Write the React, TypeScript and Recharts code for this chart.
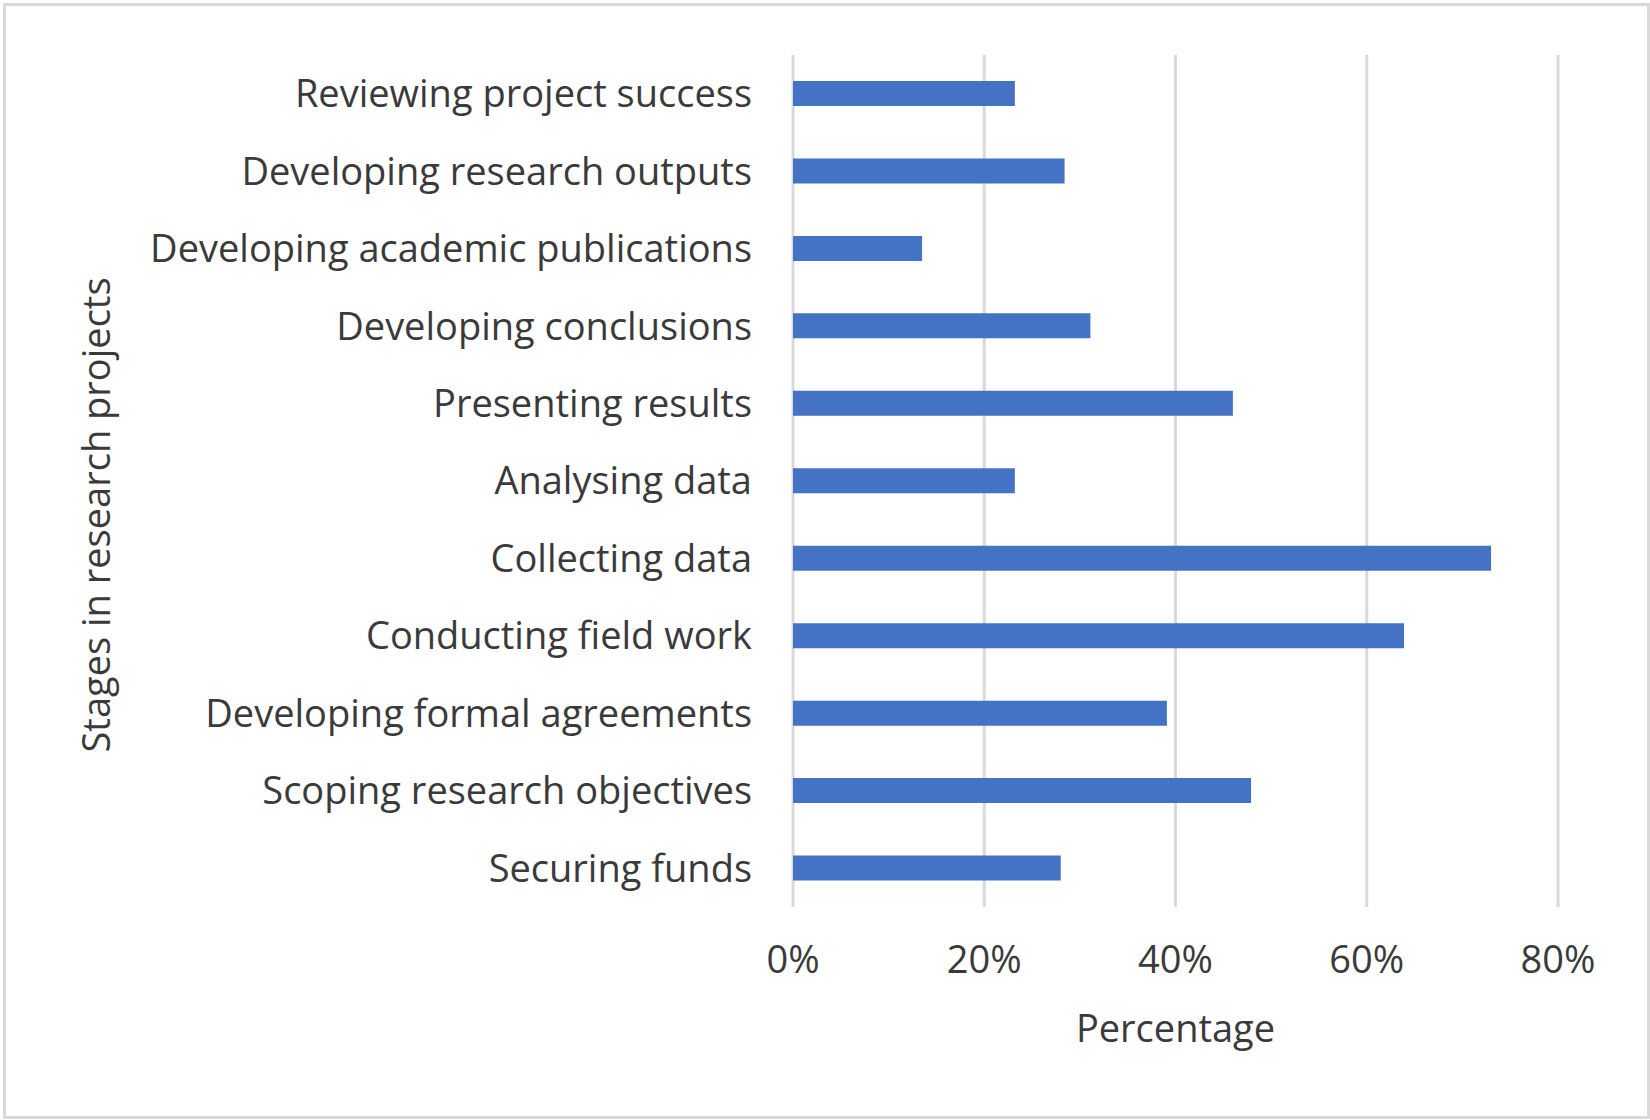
import React from "react";
import { BarChart, Bar, XAxis, YAxis, CartesianGrid } from "recharts";

const stages = [
  "Reviewing project success",
  "Developing research outputs",
  "Developing academic publications",
  "Developing conclusions",
  "Presenting results",
  "Analysing data",
  "Collecting data",
  "Conducting field work",
  "Developing formal agreements",
  "Scoping research objectives",
  "Securing funds",
];

const percentages = [23.2, 28.4, 13.5, 31.1, 46.0, 23.2, 73.0, 63.9, 39.1, 47.9, 28.0];

const xTicks = [0, 20, 40, 60, 80];

const data = stages.map((stage, i) => ({ stage, value: percentages[i] }));

const FONT = "'Open Sans', sans-serif";
const TEXT = "#3a3a3a";
const SIZE = 38;

const App: React.FC = () => {
  return (
    <div style={{ position: "relative", width: 1650, height: 1120, background: "#fff" }}>
      <style>{`body{margin:0}`}</style>
      <div
        style={{
          position: "absolute",
          left: 3,
          top: 3,
          width: 1641,
          height: 1110,
          border: "3px solid #d9d9d9",
        }}
      />
      <BarChart
        width={1650}
        height={1120}
        data={data}
        layout="vertical"
        margin={{ top: 55, right: 92, bottom: 0, left: 0 }}
        style={{ position: "absolute", left: 0, top: 0 }}
      >
        <CartesianGrid horizontal={false} stroke="#d9d9d9" strokeWidth={3} />
        <XAxis
          type="number"
          domain={[0, 80]}
          ticks={xTicks}
          tickFormatter={(v: number) => `${v}%`}
          axisLine={false}
          tickLine={false}
          tickSize={0}
          tickMargin={39}
          height={213}
          tick={{ fontSize: SIZE, fill: TEXT, fontFamily: FONT }}
          label={{
            content: (props: any) => {
              const vb = props.viewBox;
              return (
                <text
                  x={vb.x + vb.width / 2}
                  y={vb.y + 135}
                  textAnchor="middle"
                  fontSize={SIZE}
                  fill={TEXT}
                  fontFamily={FONT}
                >
                  Percentage
                </text>
              );
            },
          }}
        />
        <YAxis
          type="category"
          dataKey="stage"
          width={793}
          axisLine={false}
          tickLine={false}
          tickSize={0}
          tickMargin={41}
          interval={0}
          tick={{ fontSize: SIZE, fill: TEXT, fontFamily: FONT }}
          label={{
            content: (props: any) => {
              const vb = props.viewBox;
              const x = vb.x + 110;
              const y = 515;
              return (
                <text
                  x={x}
                  y={y}
                  transform={`rotate(-90, ${x}, ${y})`}
                  textAnchor="middle"
                  fontSize={SIZE}
                  fill={TEXT}
                  fontFamily={FONT}
                >
                  Stages in research projects
                </text>
              );
            },
          }}
        />
        <Bar dataKey="value" fill="#4472C4" barSize={25} isAnimationActive={false} />
      </BarChart>
    </div>
  );
};

export default App;
